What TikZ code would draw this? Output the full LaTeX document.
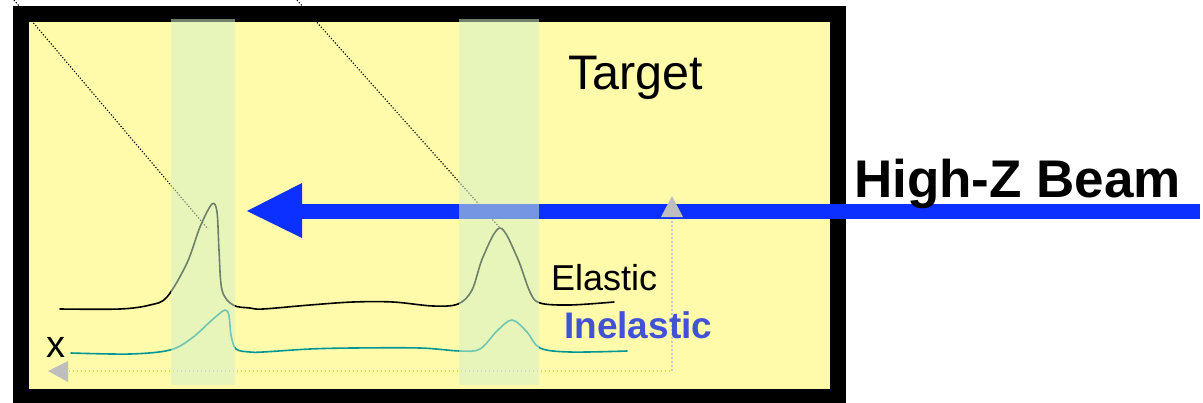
\documentclass[tikz,border=0pt]{standalone}
\usepackage{fontspec}
\setmainfont{Liberation Sans}
\definecolor{tyellow}{RGB}{255,251,170}
\definecolor{beamblue}{RGB}{12,48,255}
\definecolor{bandgreen}{RGB}{211,241,201}
\definecolor{teal2}{RGB}{0,150,150}
\definecolor{inblue}{RGB}{66,82,214}
\definecolor{lgray}{RGB}{190,190,190}
\definecolor{dgray}{RGB}{200,200,215}
\begin{document}
\begin{tikzpicture}[x=1pt,y=-1pt,
  band/.style={fill=bandgreen,fill opacity=0.53,draw=none},
  curve/.style={line width=1.6pt,line join=round,line cap=round},
  diag/.style={line width=1.1pt,dash pattern=on 1.2pt off 1.8pt},
  guide/.style={dgray,line width=1.2pt,dash pattern=on 1.5pt off 2.5pt},
  tri/.style={fill=lgray,draw=none},
  lbl/.style={inner sep=0pt,anchor=base west}]
\useasboundingbox (0,0) rectangle (1203,402);
\fill[white] (0,0) rectangle (1203,402);
% target box
\draw[line width=16pt,fill=tyellow] (21,14) rectangle (838,397);
% dotted diagonal lines
\draw[diag] (14,0) -- (208,229);
\draw[diag] (297,0) -- (500,228);
% elastic curve
\draw[curve,black] plot[smooth,tension=0.55] coordinates {
 (60,309) (120,309) (150,305) (167,297) (187,263) (200,227) (212,204)
 (217,212) (219,250) (222,290) (233,305) (250,308) (263,309) (310,305)
 (353,302) (393,302) (433,306) (458,304) (472,290) (483,257) (500,228)
 (517,257) (530,292) (540,303) (570,305) (614,302)};
% inelastic curve
\draw[curve,teal2] plot[smooth,tension=0.55] coordinates {
 (71,353) (130,354) (170,350) (192,338) (212,320) (225,310)
 (229,316) (231,335) (236,349) (250,352) (263,352) (310,349)
 (353,348) (420,348) (460,351) (480,349) (497,331) (512,320)
 (527,332) (540,348) (570,352) (627,351)};
% guide (dotted gray) with arrow triangles
\coordinate (gt) at (672,217);
\coordinate (gc) at (672,371);
\coordinate (gl) at (68,371);
\draw[guide] (gt) -- (gc) -- (gl);
% beam
\coordinate (bstart) at (1200,211);
\coordinate (bhead) at (302,211);
\draw[beamblue,line width=15pt] (bstart) -- (bhead);
\fill[beamblue] (302,183) -- (247,211) -- (302,238) -- cycle;
% gray triangles
\fill[tri] (672,196) -- (661,217) -- (683,217) -- cycle;
\fill[tri] (48,371) -- (68,361) -- (68,382) -- cycle;
% transparent bands
\fill[band] (171,19) rectangle (235,385);
\fill[band] (459,19) rectangle (539,385);
% labels
\node[lbl] (target) at (568,89) {\fontsize{48.5}{58}\selectfont Target};
\node[lbl] (beam) at (854,197) {\fontsize{53}{63}\selectfont\bfseries High-Z Beam};
\node[lbl] (elastic) at (551,290) {\fontsize{36}{43}\selectfont Elastic};
\node[lbl,text=inblue] (inelastic) at (564,338) {\fontsize{37}{44}\selectfont\bfseries Inelastic};
\node[lbl] (xlab) at (46,357) {\fontsize{38}{45}\selectfont x};
\end{tikzpicture}
\end{document}
